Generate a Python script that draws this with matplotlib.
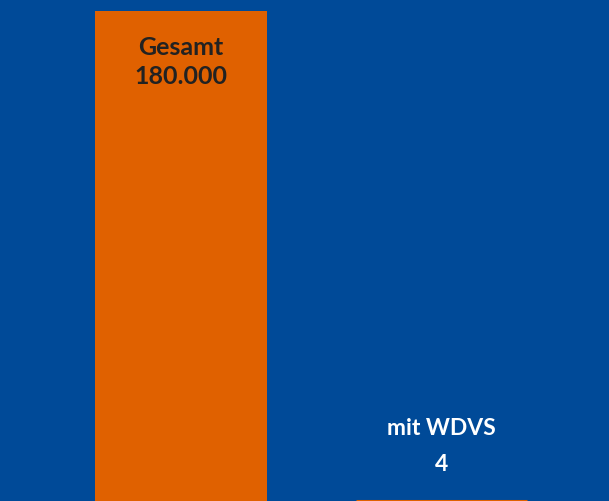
import matplotlib
matplotlib.use("Agg")
import matplotlib.pyplot as plt

categories = ["Gesamt", "mit WDVS"]
values = [180000, 4]
value_labels = ["180.000", "4"]

BG = "#004a98"
ORANGE = "#e06100"

fig = plt.figure(figsize=(6.09, 5.01), dpi=100, facecolor=BG)
ax = fig.add_axes([0, 0, 1, 1])
ax.set_facecolor(BG)

x = list(range(len(categories)))
ax.bar(x, values, width=0.66, color=ORANGE, edgecolor=ORANGE, linewidth=[0, 2.2])

ax.set_xlim(-0.695, 1.643)
ax.set_ylim(0, 184040)
ax.axis("off")

font = ["Lato", "DejaVu Sans"]
px = 72 / 100  # points per pixel

# labels inside first bar (dark)
ax.annotate(categories[0], xy=(x[0], values[0]), xytext=(0, -44 * px),
            textcoords="offset points", ha="center", va="baseline",
            fontsize=18, fontweight="bold", color="#222222", family=font)
ax.annotate(value_labels[0], xy=(x[0], values[0]), xytext=(0, -73 * px),
            textcoords="offset points", ha="center", va="baseline",
            fontsize=18, fontweight="bold", color="#222222", family=font)
# labels above second bar (white)
ax.annotate(categories[1], xy=(x[1], values[1]), xytext=(0, 66 * px),
            textcoords="offset points", ha="center", va="baseline",
            fontsize=16.5, fontweight="bold", color="white", family=font)
ax.annotate(value_labels[1], xy=(x[1], values[1]), xytext=(0, 30 * px),
            textcoords="offset points", ha="center", va="baseline",
            fontsize=16.5, fontweight="bold", color="white", family=font)

fig.savefig("out.png", dpi=100, facecolor=BG)
